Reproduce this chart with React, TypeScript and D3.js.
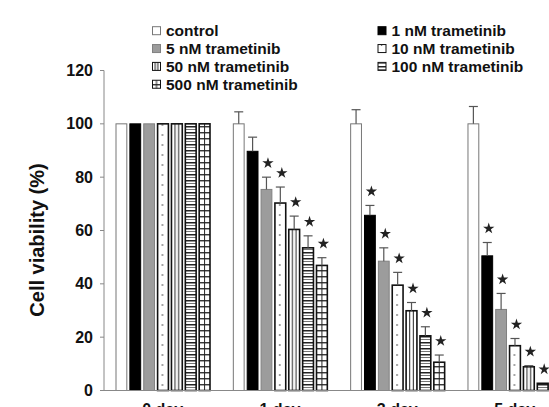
import * as d3 from "d3";

const days = ["0 day", "1 day", "3 day", "5 day"];
const treatments = [
  "control",
  "1 nM trametinib",
  "5 nM trametinib",
  "10 nM trametinib",
  "50 nM trametinib",
  "100 nM trametinib",
  "500 nM trametinib",
];
const fills = ["open", "black", "gray", "dots", "vlines", "hlines", "grid"];

// viability (%) per treatment, one value per day
const control = [100, 100, 100, 100];
const nM1 = [100, 89.7, 65.7, 50.5];
const nM5 = [100, 75.4, 48.5, 30.4];
const nM10 = [100, 70.3, 39.5, 16.8];
const nM50 = [100, 60.4, 29.9, 8.9];
const nM100 = [100, 53.5, 20.5, 2.7];
const nM500 = [100, 46.9, 10.6, 1.5];

// upper error (SD)
const errControl = [0, 4.5, 5.3, 6.5];
const err1 = [0, 5.3, 3.7, 5];
const err5 = [0, 4.6, 5, 6];
const err10 = [0, 6, 4.8, 2.7];
const err50 = [0, 5, 3.1, 0.4];
const err100 = [0, 4.5, 3.4, 0];
const err500 = [0, 2.9, 2.7, 0];

// treatments marked with * per day
const significant = [[], [2, 3, 4, 5, 6], [1, 2, 3, 4, 5, 6], [1, 2, 3, 4, 5, 6]];

const yTicks = [0, 20, 40, 60, 80, 100, 120];

const series = [control, nM1, nM5, nM10, nM50, nM100, nM500];
const errors = [errControl, err1, err5, err10, err50, err100, err500];

const W = 549;
const H = 407;
const font = "'Liberation Sans', Arial, sans-serif";

function Pattern({ id, kind, x, w }) {
  if (kind === "dots") {
    return (
      <pattern id={id} patternUnits="userSpaceOnUse" x={x} y={0} width={w} height={10}>
        <rect width={w} height={10} fill="#fff" />
        <circle cx={w * 0.45} cy={5} r={0.8} fill="#333" />
      </pattern>
    );
  }
  if (kind === "vlines") {
    return (
      <pattern id={id} patternUnits="userSpaceOnUse" x={x} y={0} width={w} height={10}>
        <rect width={w} height={10} fill="#fff" />
        <line x1={w / 3} x2={w / 3} y1={0} y2={10} stroke="#222" strokeWidth={1} />
        <line x1={(2 * w) / 3} x2={(2 * w) / 3} y1={0} y2={10} stroke="#222" strokeWidth={1} />
      </pattern>
    );
  }
  if (kind === "hlines") {
    return (
      <pattern id={id} patternUnits="userSpaceOnUse" x={x} y={0} width={w} height={6}>
        <rect width={w} height={6} fill="#fff" />
        <line x1={0} x2={w} y1={0.75} y2={0.75} stroke="#222" strokeWidth={1.5} />
        <line x1={0} x2={w} y1={3.5} y2={3.5} stroke="#555" strokeWidth={0.8} />
      </pattern>
    );
  }
  // grid
  return (
    <pattern id={id} patternUnits="userSpaceOnUse" x={x} y={0} width={w} height={6}>
      <rect width={w} height={6} fill="#fff" />
      <line x1={0} x2={w} y1={0.75} y2={0.75} stroke="#222" strokeWidth={1.3} />
      <line x1={w / 2} x2={w / 2} y1={0} y2={6} stroke="#222" strokeWidth={1} />
    </pattern>
  );
}

function barStyle(kind, patId) {
  if (kind === "open") return { fill: "#fff", stroke: "#777", strokeWidth: 1 };
  if (kind === "black") return { fill: "#000", stroke: "#000", strokeWidth: 1 };
  if (kind === "gray") return { fill: "#9c9c9c", stroke: "#808080", strokeWidth: 1 };
  return { fill: `url(#${patId})`, stroke: "#111", strokeWidth: 1.6 };
}

export default function App() {
  const x0 = d3.scaleBand().domain(days).range([104, 573.3]);
  const x1 = d3
    .scaleBand()
    .domain(treatments)
    .range([12, 106])
    .paddingInner(0.22)
    .paddingOuter(0);
  const y = d3.scaleLinear().domain([0, 120]).range([390.5, 70.5]);
  const bw = x1.bandwidth();
  const star = d3.symbol(d3.symbolStar, 40)();

  const bars = [];
  days.forEach((day, di) => {
    treatments.forEach((t, ti) => {
      const v = series[ti][di];
      const e = errors[ti][di];
      const bx = x0(day) + x1(t);
      bars.push({ id: `p${di}-${ti}`, di, ti, v, e, bx, kind: fills[ti] });
    });
  });

  const legend = treatments.map((t, i) => ({
    t,
    i,
    sx: i % 2 === 0 ? 152.5 : 378,
    cy: 30.7 + Math.floor(i / 2) * 17.85,
  }));

  return (
    <div style={{ position: "absolute", left: 0, top: 0 }}>
      <svg width={W} height={H} style={{ display: "block", overflow: "hidden" }} fontFamily={font}>
        <defs>
          {bars
            .filter((b) => ["dots", "vlines", "hlines", "grid"].includes(b.kind))
            .map((b) => (
              <Pattern key={b.id} id={b.id} kind={b.kind} x={b.bx} w={bw} />
            ))}
          {legend
            .filter((l) => ["dots", "vlines", "hlines", "grid"].includes(fills[l.i]))
            .map((l) => (
              <Pattern key={`lg${l.i}`} id={`lg${l.i}`} kind={fills[l.i]} x={l.sx} w={8} />
            ))}
        </defs>
        <rect width={W} height={H} fill="#fff" />

        {/* y axis */}
        <line x1={104} x2={104} y1={y(0)} y2={y(120)} stroke="#888" strokeWidth={1} />
        {yTicks.map((t) => (
          <g key={t}>
            <line x1={100} x2={104} y1={y(t)} y2={y(t)} stroke="#888" strokeWidth={1} />
            <text
              x={93}
              y={y(t)}
              textAnchor="end"
              dominantBaseline="central"
              fontSize={16}
              fontWeight="bold"
              fill="#111"
            >
              {t}
            </text>
          </g>
        ))}
        <text
          transform={`translate(37,240) rotate(-90)`}
          textAnchor="middle"
          dominantBaseline="central"
          fontSize={20}
          fontWeight="bold"
          fill="#111"
        >
          Cell viability (%)
        </text>

        {/* bars */}
        {bars.map((b) => (
          <rect
            key={b.id}
            x={b.bx}
            y={y(b.v)}
            width={bw}
            height={y(0) - y(b.v)}
            {...barStyle(b.kind, b.id)}
          />
        ))}

        {/* error bars */}
        {bars
          .filter((b) => b.e > 0)
          .map((b) => (
            <g key={`e${b.id}`} stroke="#555" strokeWidth={1.2}>
              <line x1={b.bx + bw / 2} x2={b.bx + bw / 2} y1={y(b.v)} y2={y(b.v + b.e)} />
              <line x1={b.bx + bw / 2 - 4.5} x2={b.bx + bw / 2 + 4.5} y1={y(b.v + b.e)} y2={y(b.v + b.e)} />
            </g>
          ))}

        {/* significance stars */}
        {bars
          .filter((b) => significant[b.di].includes(b.ti))
          .map((b) => (
            <path
              key={`s${b.id}`}
              d={star}
              transform={`translate(${b.bx + bw / 2 + 1.5},${y(b.v + b.e) - 14})`}
              fill="#222"
            />
          ))}

        {/* x axis */}
        <line x1={104} x2={W} y1={y(0)} y2={y(0)} stroke="#888" strokeWidth={1} />
        {days.map((d) => (
          <text
            key={d}
            x={x0(d) + x0.bandwidth() / 2}
            y={415}
            textAnchor="middle"
            fontSize={16}
            fontWeight="bold"
            fill="#111"
          >
            {d}
          </text>
        ))}

        {/* legend */}
        {legend.map((l) => (
          <g key={l.t}>
            <rect
              x={l.sx}
              y={l.cy - 4}
              width={8}
              height={8}
              {...barStyle(fills[l.i], `lg${l.i}`)}
              strokeWidth={1}
            />
            <text
              x={l.sx + 13.5}
              y={l.cy}
              dominantBaseline="central"
              fontSize={15.5}
              fontWeight="bold"
              fill="#111"
            >
              {l.t}
            </text>
          </g>
        ))}
      </svg>
    </div>
  );
}
